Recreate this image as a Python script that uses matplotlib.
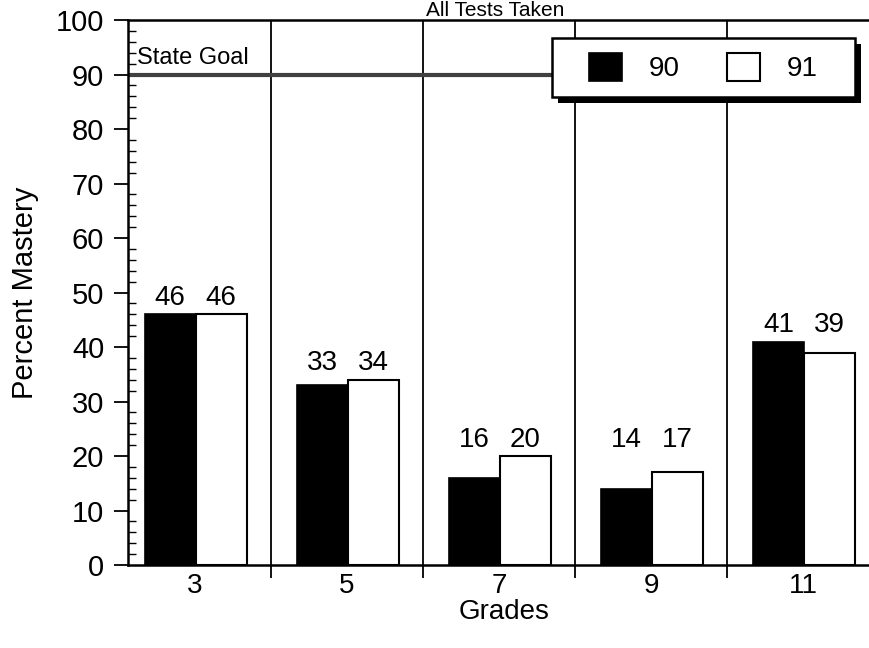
import numpy as np
import matplotlib.pyplot as plt
from matplotlib.patches import Rectangle

plt.rcParams['font.family'] = ['Liberation Sans', 'DejaVu Sans']

grades = ['3', '5', '7', '9', '11']
year90 = [46, 33, 16, 14, 41]
year91 = [46, 34, 20, 17, 39]
state_goal = 90
title = 'All Tests Taken'


def main():
    fig = plt.figure(figsize=(8.7, 6.48), dpi=100)
    ax = fig.add_axes([0.147, 0.128, 0.864, 0.841])

    g = np.arange(len(grades))
    w = 0.335
    ax.bar(g + 0.17, year90, width=w, align='edge', color='black',
           edgecolor='black', linewidth=1.2, label='90', zorder=3)
    ax.bar(g + 0.17 + w, year91, width=w, align='edge', color='white',
           edgecolor='black', linewidth=1.5, label='91', zorder=3)

    # value labels, one height per grade group
    for i in range(len(grades)):
        ytxt = max(year90[i], year91[i], 20) + 0.6
        ax.text(g[i] + 0.17 + w / 2, ytxt, str(year90[i]), ha='center',
                va='bottom', fontsize=20)
        ax.text(g[i] + 0.17 + 1.5 * w, ytxt, str(year91[i]), ha='center',
                va='bottom', fontsize=20)

    # group separators
    for x in g[1:]:
        ax.axvline(x, color='black', lw=1.3, zorder=1)

    ax.axhline(state_goal, xmax=0.6, color='0.25', lw=3, zorder=2)
    ax.text(0.12, state_goal + 1.0, 'State Goal', fontsize=17, va='bottom')

    ax.set_xlim(0.06, 5)
    ax.set_ylim(0, 100)
    ax.set_xticks(g[1:])
    ax.set_xticklabels([])
    ax.set_xticks(g + 0.5, minor=True)
    ax.set_xticklabels(grades, minor=True, fontsize=20)
    ax.tick_params(axis='x', which='major', direction='out', length=9, width=1.3)
    ax.tick_params(axis='x', which='minor', length=0, pad=6)
    ax.set_yticks(np.arange(0, 101, 10))
    ax.set_yticks(np.arange(0, 101, 2), minor=True)
    ax.tick_params(axis='y', which='major', direction='out', length=10,
                   width=1.3, labelsize=21, pad=7)
    ax.tick_params(axis='y', which='minor', direction='in', length=6, width=1)
    for s in ax.spines.values():
        s.set_linewidth(1.8)

    ax.set_xlabel('Grades', fontsize=20, labelpad=0)
    ax.set_ylabel('Percent Mastery', fontsize=21, labelpad=12)

    fig.text(0.569, 0.999, title, ha='center', va='top', fontsize=15)

    # legend box with drop shadow
    bx, by, bw, bh = 552 / 870, 1 - 97 / 648, 303 / 870, 59 / 648
    fig.patches.append(Rectangle((bx + 6 / 870, by - 6 / 648), bw, bh,
                                 transform=fig.transFigure, facecolor='black',
                                 zorder=4))
    fig.patches.append(Rectangle((bx, by), bw, bh, transform=fig.transFigure,
                                 facecolor='white', edgecolor='black',
                                 linewidth=1.8, zorder=5))
    leg = fig.legend(*ax.get_legend_handles_labels(), loc='center',
                     bbox_to_anchor=(bx + bw / 2, by + bh / 2),
                     ncol=2, frameon=False, fontsize=20,
                     handlelength=1.2, handleheight=1.2, columnspacing=1.7,
                     handletextpad=0.95, borderaxespad=0)
    leg.set_zorder(6)

    plt.savefig('out.png', dpi=100)


if __name__ == '__main__':
    main()
